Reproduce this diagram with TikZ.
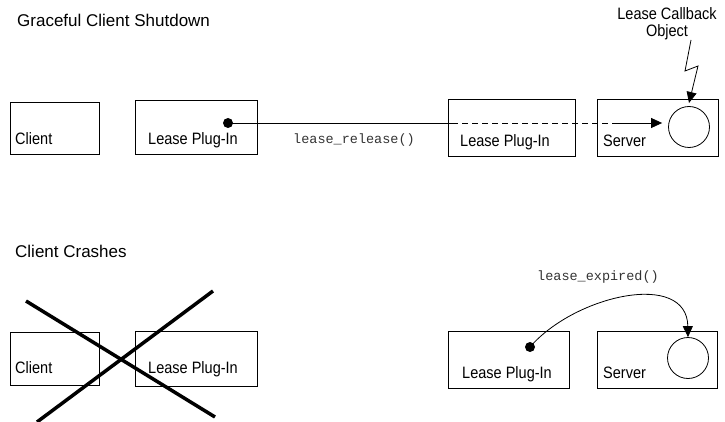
\documentclass[tikz,border=0pt]{standalone}
\usepackage{fontspec}
\setmainfont{Liberation Sans}[FakeStretch=0.88]
\newfontfamily\titlefont{Liberation Sans}
\setmonofont{Liberation Mono}
\usetikzlibrary{arrows.meta}
\tikzstyle{BoxNode}=[draw,rectangle,line width=0.8pt,inner sep=0pt]
\tikzstyle{TextNode}=[inner sep=0pt,anchor=base west,font=\fontsize{16.5}{17}\selectfont]
\tikzstyle{TitleNode}=[TextNode,font=\titlefont\fontsize{17}{18}\selectfont]
\tikzstyle{CallNode}=[inner sep=0pt,font=\ttfamily\fontsize{13.5}{16}\selectfont,text=black!80]
\tikzstyle{DotNode}=[circle,fill,inner sep=0pt,minimum size=10pt]
\tikzstyle{ObjNode}=[circle,draw,line width=0.8pt,inner sep=0pt,minimum size=41pt]
\tikzstyle{WireEdge}=[line width=0.8pt]
\tikzstyle{ArcEdge}=[WireEdge,-{Triangle[length=11pt,width=10pt]}]
\tikzstyle{CrossEdge}=[line width=3.5pt]

\begin{document}
\begin{tikzpicture}[x=1pt,y=-1pt]
        \useasboundingbox (0,0) rectangle (725,422);
        \node[TitleNode](TitleA)at(17,27){Graceful Client Shutdown};
        \node[TitleNode](TitleB)at(15,257){Client Crashes};
        \node[BoxNode,minimum width=89pt,minimum height=52pt](ClientA)at(54.5,128){};
        \node[BoxNode,minimum width=122pt,minimum height=54pt](PlugA)at(196,127){};
        \node[BoxNode,minimum width=127pt,minimum height=57pt](PlugB)at(511.5,128){};
        \node[BoxNode,minimum width=121pt,minimum height=57pt](ServerA)at(657.5,128){};
        \node[TextNode](ClientLblA)at(15,145){Client};
        \node[TextNode](PlugLblA)at(148,145){Lease Plug-In};
        \node[TextNode](PlugLblB)at(460,147){Lease Plug-In};
        \node[TextNode](ServerLblA)at(603,147){Server};
        \node[DotNode](DotA)at(228,123){};
        \node[ObjNode](CircA)at(689,127){};
        \node[TextNode,anchor=center,align=center](CallbackLbl)at(667,24){Lease Callback\\Object};
        \node[CallNode](ReleaseLbl)at(354,140){lease\_release()};
        \coordinate(DashA)at(452,123);
        \coordinate(DashB)at(614,123);
        \coordinate(BoltA)at(691,40);
        \draw[WireEdge](DotA.center)--(DashA);
        \draw[WireEdge,dash pattern=on 6pt off 4pt](DashA)--(DashB);
        \draw[ArcEdge,shorten >=6pt](DashB)--(DashB-|CircA.west);
        \draw[ArcEdge](BoltA)--(685,71)--(698,66)--(689,103);
        \node[BoxNode,minimum width=89pt,minimum height=53pt](ClientB)at(54.5,358.5){};
        \node[BoxNode,minimum width=122pt,minimum height=55pt](PlugC)at(196,358.5){};
        \node[BoxNode,minimum width=121pt,minimum height=57pt](PlugD)at(508.5,359.5){};
        \node[BoxNode,minimum width=120pt,minimum height=57pt](ServerB)at(657,359.5){};
        \node[TextNode](ClientLblB)at(15,373){Client};
        \node[TextNode](PlugLblC)at(148,373){Lease Plug-In};
        \node[TextNode](PlugLblD)at(462,378){Lease Plug-In};
        \node[TextNode](ServerLblB)at(603,378){Server};
        \node[DotNode](DotB)at(530,347){};
        \node[ObjNode](CircB)at(688,358){};
        \node[CallNode](ExpiredLbl)at(598,277){lease\_expired()};
        \draw[ArcEdge](DotB.center)..controls(575,295)and(687,270)..(CircB.north);
        \draw[CrossEdge](26,301)--(215,417);
        \draw[CrossEdge](37,422)--(213,291);
    \end{tikzpicture}
\end{document}
